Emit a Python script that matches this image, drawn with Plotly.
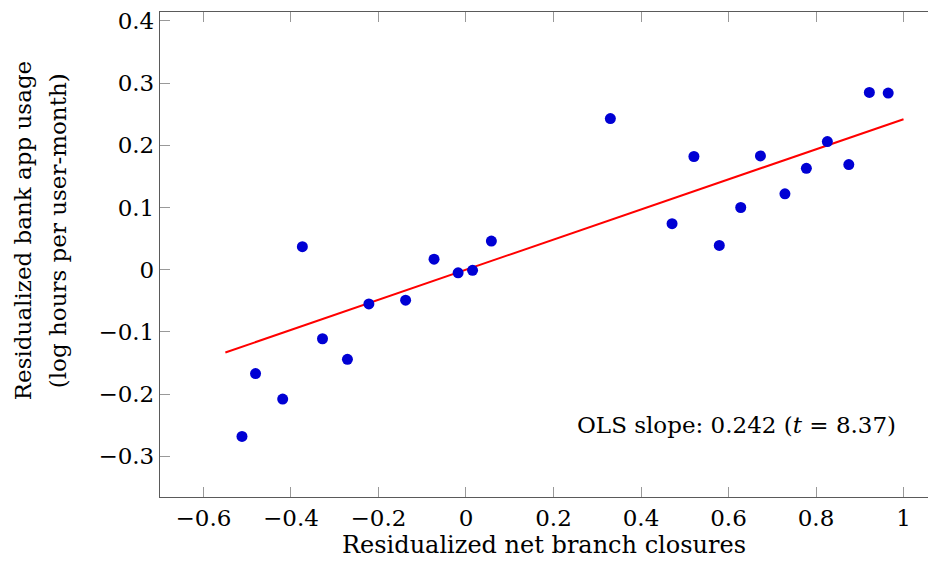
import plotly.graph_objects as go

# Data
x_vals = [-0.512, -0.481, -0.419, -0.374, -0.328, -0.271, -0.222, -0.138,
          -0.073, -0.018, 0.015, 0.058, 0.330, 0.471, 0.521, 0.579,
          0.628, 0.673, 0.729, 0.778, 0.826, 0.875, 0.922, 0.965]
y_vals = [-0.268, -0.167, -0.208, 0.037, -0.111, -0.144, -0.055, -0.049,
          0.017, -0.005, -0.001, 0.046, 0.243, 0.074, 0.182, 0.039,
          0.100, 0.183, 0.122, 0.163, 0.206, 0.169, 0.285, 0.284]

fit_x = [-0.55, 1.0]
slope = 0.242
intercept = 0.0
fit_y = [intercept + slope * v for v in fit_x]

x_ticks = [-0.6, -0.4, -0.2, 0, 0.2, 0.4, 0.6, 0.8, 1]
x_tick_text = ["−0.6", "−0.4", "−0.2", "0", "0.2", "0.4", "0.6", "0.8", "1"]
y_ticks = [-0.3, -0.2, -0.1, 0, 0.1, 0.2, 0.3, 0.4]
y_tick_text = ["−0.3", "−0.2", "−0.1", "0", "0.1", "0.2", "0.3", "0.4"]

x_title = "Residualized net branch closures"
y_title_lines = ["Residualized bank app usage", "(log hours per user-month)"]
note = "OLS slope: 0.242 (<i>t</i> = 8.37)"

FONT = "DejaVu Serif"
FS = 23

fig = go.Figure()
fig.add_trace(go.Scatter(x=fit_x, y=fit_y, mode="lines",
                         line=dict(color="#ff0000", width=2), showlegend=False))
fig.add_trace(go.Scatter(x=x_vals, y=y_vals, mode="markers",
                         marker=dict(color="#0000d4", size=11, line=dict(width=0)),
                         showlegend=False))

axis_common = dict(
    showgrid=False, zeroline=False, showline=True, linecolor="#5a5a5a", linewidth=1.3,
    ticks="inside", ticklen=10, tickcolor="#999999", tickwidth=1,
    tickfont=dict(family=FONT, size=FS, color="black"), automargin=False,
    ticklabeloverflow="allow",
)

fig.update_layout(
    width=920, height=553,
    margin=dict(l=152, r=0, t=4, b=64),
    paper_bgcolor="white", plot_bgcolor="white",
    font=dict(family=FONT, color="black"),
    xaxis=dict(range=[-0.6994, 1.056], tickvals=x_ticks, ticktext=x_tick_text,
               mirror="ticks", **axis_common),
    yaxis=dict(range=[-0.3654, 0.4143], tickvals=y_ticks, ticktext=y_tick_text,
               mirror=False, **axis_common),
    annotations=[
        dict(x=0.988, y=-0.25, xref="x", yref="y", xanchor="right", yanchor="middle",
             text=note, showarrow=False,
             font=dict(family=FONT, size=FS, color="black")),
        dict(x=0.5, y=0, xref="paper", yref="paper", xanchor="center", yanchor="middle",
             yshift=-48, text=x_title, showarrow=False,
             font=dict(family=FONT, size=FS + 1, color="black")),
        dict(x=0, y=0.548, xref="paper", yref="paper", xanchor="center", yanchor="middle",
             xshift=-137, textangle=-90, text=y_title_lines[0], showarrow=False,
             font=dict(family=FONT, size=FS, color="black")),
        dict(x=0, y=0.548, xref="paper", yref="paper", xanchor="center", yanchor="middle",
             xshift=-102, textangle=-90, text=y_title_lines[1], showarrow=False,
             font=dict(family=FONT, size=FS, color="black")),
    ],
)

fig.write_html("out.html")
